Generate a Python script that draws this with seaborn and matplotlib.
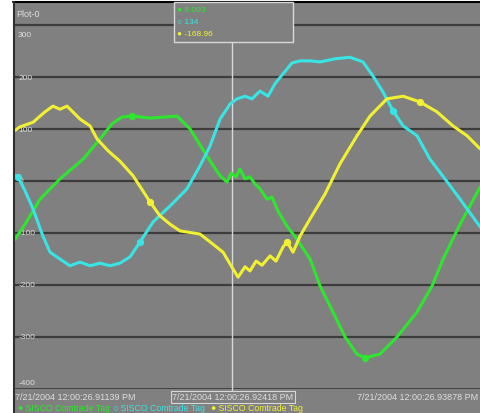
import numpy as np
import pandas as pd
import matplotlib
matplotlib.use("Agg")
import matplotlib.pyplot as plt
import seaborn as sns
from matplotlib.lines import Line2D
from matplotlib.patches import Rectangle

# time in ms after 12:00:26.91139 PM
green_t = [0, 0.65, 1.53, 2.70, 4.06, 5.06, 5.76, 6.35, 6.94, 7.99, 8.88, 9.58, 10.35, 11.34,
           12.11, 12.52, 12.76, 13.05, 13.28, 13.58, 13.87, 14.17, 14.46, 14.87, 15.17, 15.52,
           16.05, 16.63, 17.40, 17.99, 18.75, 19.46, 20.16, 20.63, 21.51, 22.51, 23.69, 24.57,
           25.22, 26.22, 27.39]
green_v = [-115, -83, -35, 4, 42, 81, 110, 123, 125, 121, 123, 125, 100, 48,
           10, -2, 15, 8, 23, 4, 8, -6, -15, -35, -31, -58,
           -87, -112, -150, -202, -252, -300, -333, -340, -333, -300, -252, -202,
           -150, -83, -12]
green_marks = [8, 33]

cyan_t = [0, 0.24, 0.65, 1.12, 1.70, 2.12, 2.70, 3.29, 3.88, 4.47, 5.06, 5.64, 6.23, 6.82,
          7.41, 8.17, 9.17, 10.17, 10.93, 11.52, 12.11, 12.70, 13.11, 13.58, 13.99, 14.46,
          14.93, 15.34, 15.81, 16.34, 16.81, 17.40, 17.99, 18.87, 19.75, 20.51, 21.10, 21.69,
          22.28, 22.87, 23.69, 24.45, 25.33, 26.22, 27.39]
cyan_v = [12, 8, -19, -54, -106, -137, -150, -163, -156, -163, -158, -163, -158, -146,
          -117, -79, -48, -15, 29, 67, 119, 148, 158, 163, 158, 173,
          163, 187, 206, 227, 231, 231, 229, 235, 238, 229, 202, 171,
          135, 106, 87, 42, 4, -35, -88]
cyan_marks = [1, 14, 38]

yellow_t = [0, 0.35, 1.12, 1.82, 2.29, 2.70, 3.12, 3.88, 4.47, 4.88, 5.53, 6.23, 7.00, 7.99,
            8.58, 9.17, 9.76, 10.93, 11.52, 12.29, 12.87, 13.17, 13.58, 13.87, 14.23, 14.58,
            15.05, 15.40, 15.81, 16.05, 16.40, 16.81, 17.40, 18.28, 19.16, 20.16, 20.93, 21.92,
            22.87, 23.86, 24.86, 25.80, 26.63, 27.39]
yellow_v = [96, 104, 113, 133, 144, 138, 144, 119, 106, 81, 58, 38, 10, -40,
            -67, -83, -96, -102, -117, -137, -169, -185, -165, -173, -154, -162,
            -144, -154, -127, -117, -137, -106, -73, -25, 33, 87, 125, 158,
            163, 152, 133, 106, 87, 62]
yellow_marks = [13, 29, 39]

y_ticks = [300, 200, 100, 0, -100, -200, -300, -400]
cursor_t = 12.81
readout = [("\u25cf 8.003", "green"), ("\u25cb 134", "cyan"), ("\u25cf -168.96", "yellow")]
time_labels = ["7/21/2004 12:00:26.91139 PM", "7/21/2004 12:00:26.92418 PM",
               "7/21/2004 12:00:26.93878 PM"]
legend_names = ["SISCO Comtrade Tag", "SISCO Comtrade Tag", "SISCO Comtrade Tag"]

COLORS = {"green": "#2ee62e", "cyan": "#38e4e4", "yellow": "#f2f032"}
BG = "#808080"
GRID = "#3c3c3c"
TXT = "#dedede"

sns.set_style("white")
plt.rcParams["font.family"] = ["Liberation Sans", "DejaVu Sans"]

W, H = 480, 414
fig = plt.figure(figsize=(4.8, 4.14), dpi=100, facecolor="white")


def px(x, y):
    return x / W, 1 - y / H


# gray panel behind everything
x0, y0 = px(14, 414)
fig.patches.append(Rectangle((x0, y0), 1 - x0, (414 - 3) / H, transform=fig.transFigure,
                             facecolor=BG, edgecolor="none", zorder=-5))
fig.lines.append(Line2D([px(13, 0)[0], 1], [px(0, 3)[1]] * 2, transform=fig.transFigure,
                        color="black", lw=1.5, zorder=5))
fig.lines.append(Line2D([px(14, 0)[0]] * 2, [px(0, 3)[1], 0], transform=fig.transFigure,
                        color="#303030", lw=1.5, zorder=5))

left, top = px(14, 4)
_, bottom = px(0, 390)
ax = fig.add_axes([left, bottom, 1 - left, top - bottom])
ax.set_facecolor(BG)
ymax = (182 - 4) / 0.52

series = [(green_t, green_v, green_marks, "green"),
          (cyan_t, cyan_v, cyan_marks, "cyan"),
          (yellow_t, yellow_v, yellow_marks, "yellow")]
for t, v, marks, c in series:
    df = pd.DataFrame({"t": t, "v": v})
    sns.lineplot(data=df, x="t", y="v", ax=ax, color=COLORS[c], lw=2.2, estimator=None,
                 sort=False, marker="o", markersize=4.5, markevery=marks, mec=COLORS[c],
                 zorder=3)
ax.set_xlabel("")
ax.set_ylabel("")
ax.set_xlim(0, 27.39)
ax.set_ylim(-400, ymax)
for s in ax.spines.values():
    s.set_visible(False)
ax.set_xticks([])
ax.set_yticks([])

for v in y_ticks[:-1]:
    ax.axhline(v, color=GRID, lw=1.6, zorder=1)
ax.axhline(-400, color="#303030", lw=1.8, zorder=1)

for v in y_ticks:
    off = -7 if v == 300 else (5 if v == -400 else 0)
    ax.annotate(str(v), (0, v), xytext=(3, off), textcoords="offset points",
                color=TXT, fontsize=6, va="center", ha="left", zorder=2)
ax.text(0.005, 0.985, "Plot-0", transform=ax.transAxes, color=TXT, fontsize=6.5,
        va="top", ha="left")

# cursor line and readout
box_bottom = (182 - 43) / 0.52
ax.plot([cursor_t, cursor_t], [-400, box_bottom], color="#d8d8d8", lw=1, zorder=2)
cx = ax.transData.transform((cursor_t, 0))[0] / W
fig.lines.append(Line2D([cx, cx], [px(0, 390)[1], px(0, 393)[1]], transform=fig.transFigure,
                        color="#d8d8d8", lw=1))
bx0, by0 = px(174, 43)
bx1, by1 = px(293, 3)
fig.patches.append(Rectangle((bx0, by0), bx1 - bx0, by1 - by0, transform=fig.transFigure,
                             facecolor=BG, edgecolor="#d8d8d8", lw=1, zorder=5))
for i, (txt, c) in enumerate(readout):
    fig.text(*px(177, 11 + 11.5 * i), txt, color=COLORS[c], fontsize=6, va="center",
             ha="left", zorder=6)

# time labels
fig.text(*px(15, 398), time_labels[0], color=TXT, fontsize=6.5, va="center", ha="left")
fig.text(*px(233, 398), time_labels[1], color=TXT, fontsize=6.5, va="center", ha="center",
         bbox=dict(boxstyle="square,pad=0.15", fc=BG, ec="#d8d8d8", lw=0.8))
fig.text(*px(478, 398), time_labels[2], color=TXT, fontsize=6.5, va="center", ha="right")

# legend row
for xpos, name, (mk, c) in zip([18, 113, 211], legend_names,
                               [("\u25cf", "green"), ("\u25cb", "cyan"), ("\u25cf", "yellow")]):
    fig.text(*px(xpos, 409), f"{mk} {name}", color=COLORS[c], fontsize=6.3,
             va="center", ha="left")

fig.savefig("out.png", dpi=100, facecolor="white")
